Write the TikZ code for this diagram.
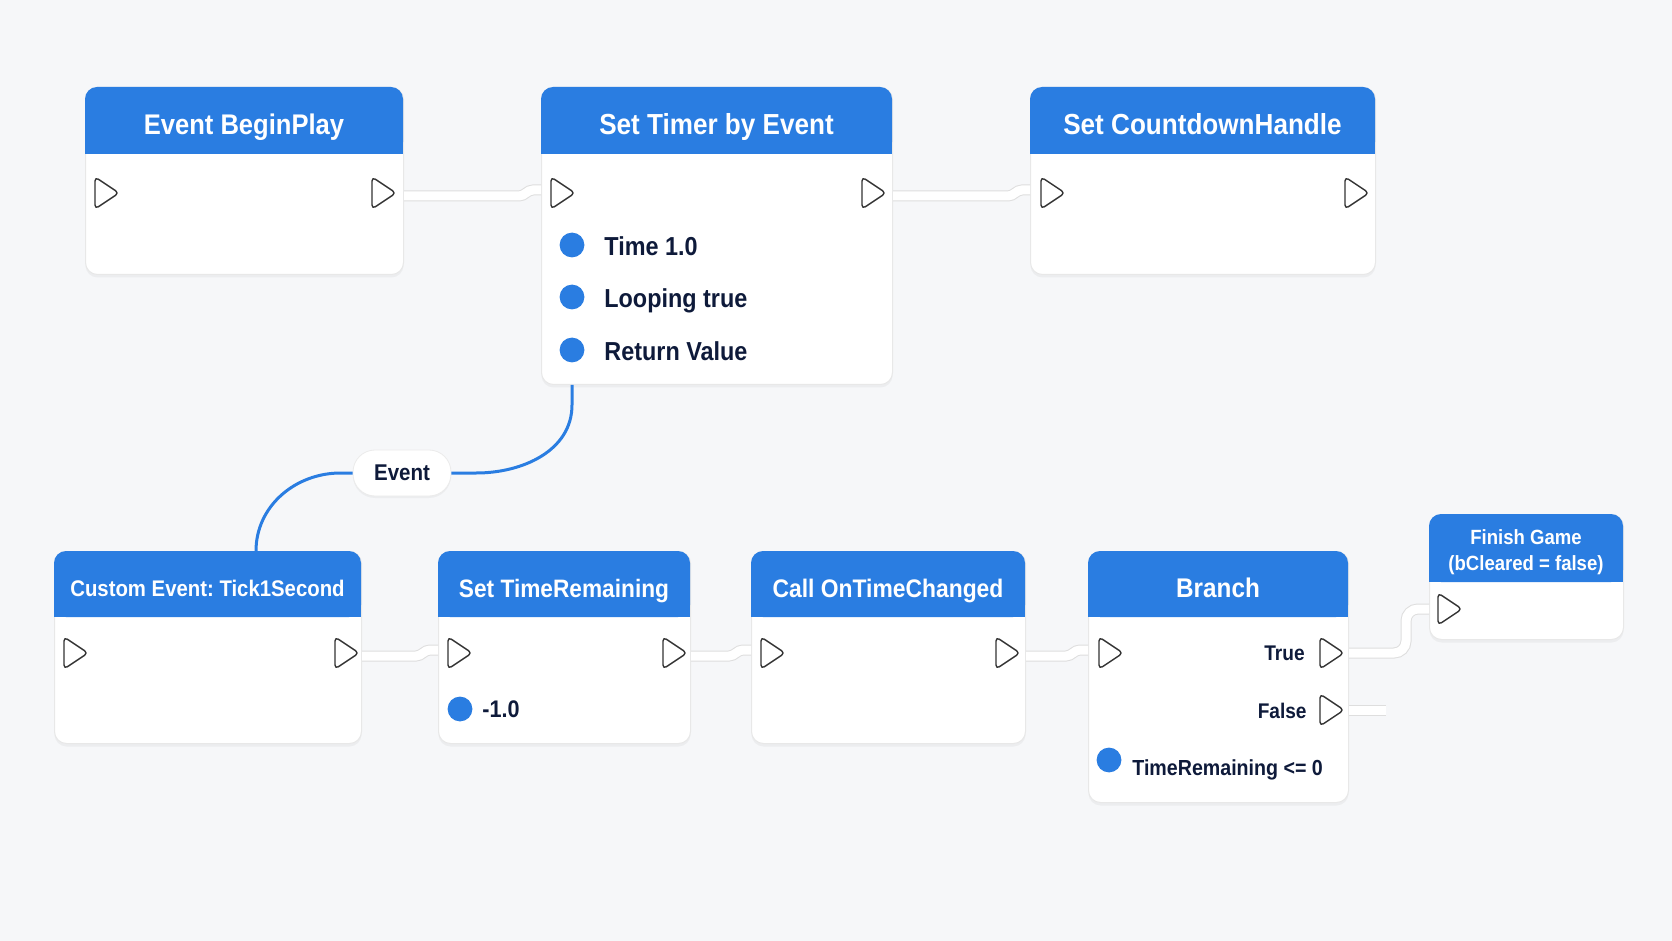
\documentclass[tikz,border=0pt]{standalone}
\usepackage{fontspec}
\setmainfont{Liberation Sans}[FakeStretch=0.9]
\usetikzlibrary{calc,shadows}
\definecolor{bpblue}{HTML}{2A7DE1}
\definecolor{navy}{HTML}{0E1A3A}
\definecolor{canvas}{HTML}{F6F7F9}
\frenchspacing

\begin{document}
\begin{tikzpicture}[x=0.5pt,y=-0.5pt,
  box/.style={draw=black!9,line width=0.5pt,fill=white,rounded corners=6pt,anchor=north west,inner sep=0pt,
    drop shadow={shadow xshift=0pt,shadow yshift=-1.5pt,opacity=0.08}},
  hdr/.style={fill=bpblue},
  ttl/.style={text=white,align=center,inner sep=0pt,anchor=base},
  lbl/.style={text=navy,inner sep=0pt,anchor=base west},
  dot/.style={fill=bpblue},
  pinline/.style={draw=black!80,line width=0.7pt,fill=white,rounded corners=2pt,line join=round},
  wire/.style={draw=black!13,line width=0.5pt,double=white,double distance=4.5pt},
  evwire/.style={draw=bpblue,line width=1.5pt},
  pill/.style={draw=black!8,fill=white,rounded corners=11pt,minimum width=49pt,minimum height=23pt,inner sep=0pt,
    text=navy,font=\bfseries\fontsize{11.4}{13}\selectfont,drop shadow={shadow xshift=0pt,shadow yshift=-1pt,opacity=0.08}}]
\useasboundingbox (0,0) rectangle (1672,941);
\fill[canvas] (0,0) rectangle (1672,941);
% nodes: name / corners / header bottom / middle of last title line / title size / title
\foreach \n/\xa/\ya/\xb/\yb/\yh/\yc/\fs/\t in {
  bp/85/87/403/274/154/124/14.2/Event BeginPlay,
  st/541/87/892/384/154/124/14.5/Set Timer by Event,
  cd/1030/87/1375/274/154/124/14.5/Set CountdownHandle,
  ce/54/551/361/743/617/588/11.3/Custom Event: Tick1Second,
  tr/438/551/690/743/617/588/12.6/Set TimeRemaining,
  oc/751/551/1025/743/617/588/12.7/Call OnTimeChanged,
  br/1088/551/1348/802/617/588/13.5/Branch,
  fg/1429/514/1623/639/582/563/10.3/{Finish Game\\(bCleared = false)}} {
  \node[box,minimum width={(\xb-\xa)*0.5pt},minimum height={(\yb-\ya)*0.5pt}] (\n) at (\xa,\ya) {};
  \fill[hdr,rounded corners=6pt] (\xa,\ya) rectangle (\xb,\yh);
  \fill[hdr] (\xa,\yh-16) rectangle (\xb,\yh);
  \node[ttl,font=\bfseries\fontsize{\fs}{13}\selectfont] (\n-t) at ({(\xa+\xb)/2},{\yc+0.72*\fs}) {\t};
}
% exec pins
\foreach \p/\x/\y in {bp-i/95/193,bp-o/372/193,st-i/551/193,st-o/862/193,cd-i/1041/193,cd-o/1345/193,
  ce-i/64/653,ce-o/335/653,tr-i/448/653,tr-o/663/653,oc-i/761/653,oc-o/996/653,
  br-i/1099/653,br-t/1320/653,br-f/1320/710,fg-i/1438/609} {
  \draw[pinline] (\x,\y-16) -- (\x+24,\y) -- (\x,\y+16) -- cycle;
  \coordinate (\p) at (\x,\y);
}
% data pins
\foreach \d/\x/\y in {st-d1/572/245,st-d2/572/297,st-d3/572/350,tr-d/460/709,br-d/1109/760} {
  \fill[dot] (\x,\y) circle (6.2pt);
  \coordinate (\d) at (\x,\y);
}
\node[lbl,font=\bfseries\fontsize{13}{15}\selectfont] (st-l1) at (604,256) {Time 1.0};
\node[lbl,font=\bfseries\fontsize{13}{15}\selectfont] (st-l2) at (604,308) {Looping true};
\node[lbl,font=\bfseries\fontsize{13}{15}\selectfont] (st-l3) at (604,361) {Return Value};
\node[lbl,font=\bfseries\fontsize{12}{14}\selectfont] (tr-l) at (482,717) {-1.0};
\node[lbl,anchor=base east,font=\bfseries\fontsize{10.6}{13}\selectfont] (br-lt) at (1305,660) {True};
\node[lbl,anchor=base east,font=\bfseries\fontsize{10.6}{13}\selectfont] (br-lf) at (1307,718) {False};
\node[lbl,font=\bfseries\fontsize{10.9}{13}\selectfont] (br-l) at (1132,775) {TimeRemaining <= 0};
% exec wires
\foreach \a/\b in {bp/st,st/cd,ce/tr,tr/oc,oc/br}
  \draw[wire] ($(\a.east|-\a-o)+(0,3)$) -- ($(\b.west|-\a-o)+(-22,3)$) to[out=0,in=180]
    ($(\b.west|-\b-i)+(-8,-3)$) -- ($(\b.west|-\b-i)+(0,-3)$);
\draw[wire,rounded corners=6pt] (br.east|-br-t) -- ($(fg.west|-br-t)+(-23,0)$)
  -- ($(fg.west|-fg-i)+(-23,0)$) -- (fg.west|-fg-i);
\coordinate (br-fe) at (1386,710);
\draw[wire] (br.east|-br-f) -- (br-fe);
% event delegate
\node[pill] (ev) at (402,473) {Event};
\coordinate (ce-e) at ($(ce.north west)+(202,0)$);
\draw[evwire] (st.south-|st-d3) -- ++(0,20) to[out=-90,in=0] ($(ev.east)+(25,0)$) -- (ev.east);
\draw[evwire] (ev.west) -- ++(-12,0) to[out=180,in=90] (ce-e);
\end{tikzpicture}
\end{document}
